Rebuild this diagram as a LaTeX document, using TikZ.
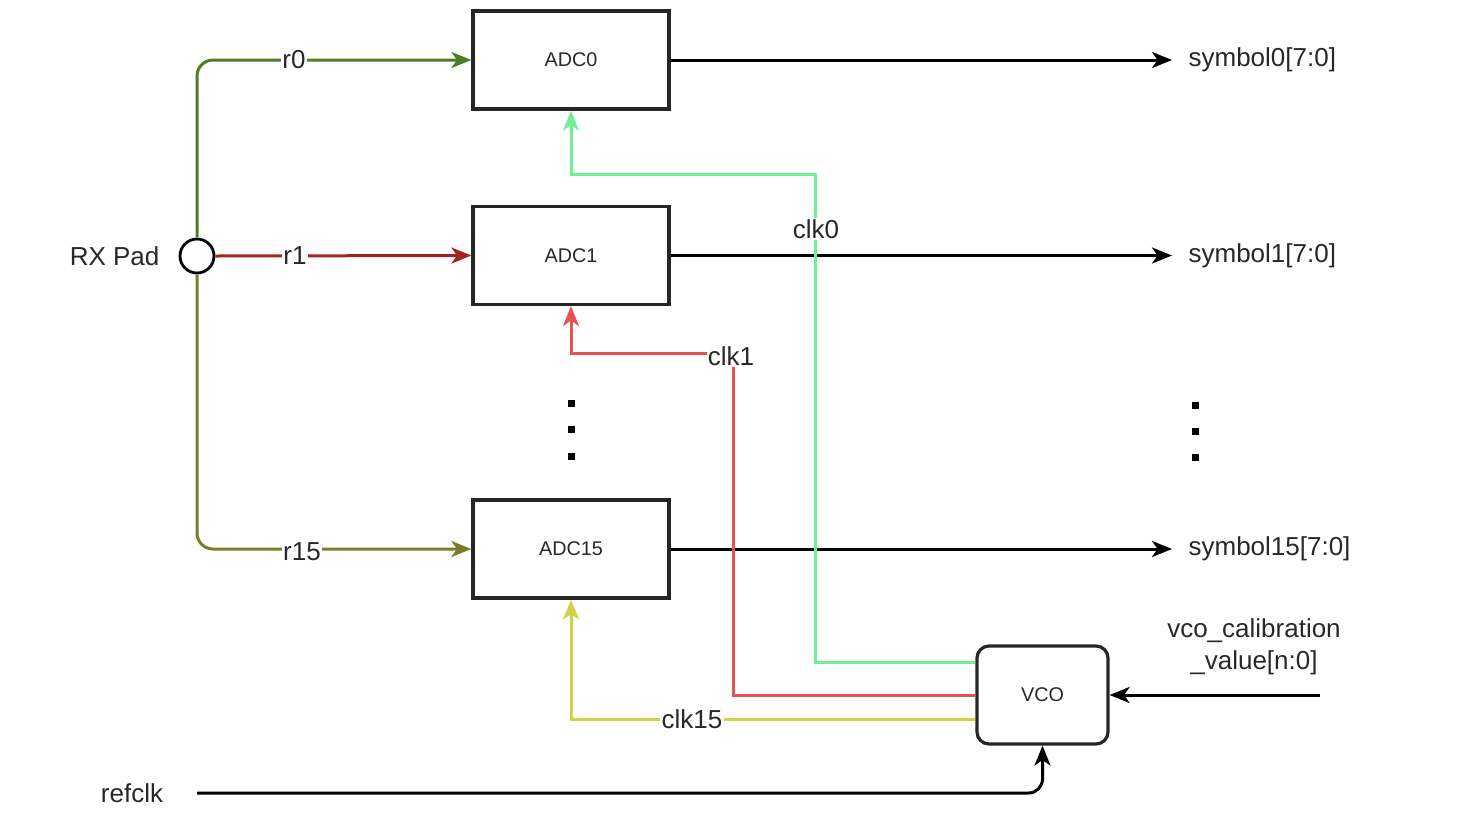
\documentclass[tikz,border=0pt]{standalone}
\usepackage{fontspec}
\setmainfont{Liberation Sans}
\usetikzlibrary{arrows.meta}
\definecolor{cR0}{RGB}{80,125,35}
\definecolor{cR1}{RGB}{165,35,30}
\definecolor{cR15}{RGB}{125,125,40}
\definecolor{cK0}{RGB}{110,240,150}
\definecolor{cK1}{RGB}{235,80,80}
\definecolor{cK15}{RGB}{210,210,70}
\definecolor{txt}{RGB}{40,40,40}
\tikzset{
  adc/.style={draw=black!85, line width=1.6pt, minimum width=98pt, minimum height=49pt, inner sep=0pt, font=\fontsize{9.9}{11}\selectfont, text=txt},
  vcobox/.style={adc, rounded corners=6pt, minimum width=65.5pt},
  pad/.style={circle, draw=black, line width=1.4pt, minimum size=17pt, inner sep=0pt, fill=white},
  lbl/.style={font=\fontsize{13}{16}\selectfont, text=txt, inner sep=0.6pt},
  wlbl/.style={lbl, fill=white},
  conn/.style={line width=1.5pt, -{Stealth[length=10pt,width=8pt,inset=2.8pt]}},
}
\begin{document}
\begin{tikzpicture}[x=0.5pt,y=-0.5pt]
\useasboundingbox (0,0) rectangle (1464,826);
% blocks
\node[adc] (adc0) at (571,60) {ADC0};
\node[adc] (adc1) at (571,255.5) {ADC1};
\node[adc] (adc15) at (571,549) {ADC15};
\node[vcobox] (vco) at (1042.5,695) {VCO};
\node[pad] (pad) at (197,256) {};
\node[lbl, anchor=east] (rxlbl) at (161,256) {RX Pad};
% outputs
\coordinate (s0) at (1172,60);
\coordinate (s1) at (1172,255.5);
\coordinate (s15) at (1172,549);
\draw[conn, black] (adc0.east) -- (s0);
\draw[conn, black] (adc1.east) -- (s1);
\draw[conn, black] (adc15.east) -- (s15);
\node[lbl, anchor=west] (sym0) at (1187,60) {symbol0[7:0]};
\node[lbl, anchor=west] (sym1) at (1187,256) {symbol1[7:0]};
\node[lbl, anchor=west] (sym15) at (1187,549) {symbol15[7:0]};
% inputs from pad
\draw[conn, cR0, rounded corners=8pt] (pad.north) |- (adc0.west);
\draw[conn, cR1] (pad.east) -- (adc1.west);
\draw[conn, cR15, rounded corners=8pt] (pad.south) |- (adc15.west);
\node[wlbl] (r0) at (294,60) {r0};
\node[wlbl] (r1) at (295,256) {r1};
\node[wlbl] (r15) at (302,552) {r15};
% clocks
\draw[conn, cK0] ([yshift=16.5pt]vco.west) -| (815,174) -| (adc0.south);
\draw[conn, cK1] (vco.west) -| (733,353) -| (adc1.south);
\draw[conn, cK15] ([yshift=-12pt]vco.west) -| (adc15.south);
\node[wlbl] (clk0) at (816,229) {clk0};
\node[wlbl] (clk1) at (731,356) {clk1};
\node[wlbl] (clk15) at (692,719) {clk15};
% vco inputs
\coordinate (vc) at (1320,695);
\draw[conn, black] (vc) -- (vco.east);
\node[lbl, align=center] (vcl) at (1254,647) {vco\_calibration\\\_value[n:0]};
\coordinate (rc) at (197,793);
\draw[conn, black, rounded corners=7pt] (rc) -| (vco.south);
\node[lbl] (refclk) at (132,793) {refclk};
% dots
\foreach \yy in {403,429,456} \fill (567.5,\yy-3.5) rectangle (574.5,\yy+3.5);
\foreach \yy in {405,431,457} \fill (1191.5,\yy-3.5) rectangle (1198.5,\yy+3.5);
\end{tikzpicture}
\end{document}
